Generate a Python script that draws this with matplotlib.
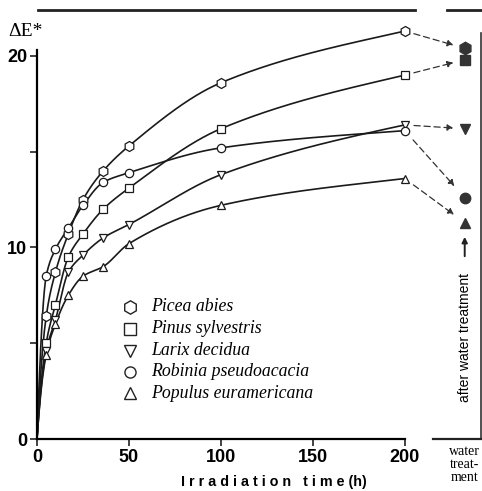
import numpy as np
import matplotlib
matplotlib.use("Agg")
import matplotlib.pyplot as plt
from matplotlib.patches import FancyArrowPatch

# irradiation times (h) and colour change dE* per species
hours = [0, 5, 10, 17, 25, 36, 50, 100, 200]
picea = [0, 6.4, 8.7, 10.7, 12.5, 14.0, 15.3, 18.6, 21.3]
pinus = [0, 5.0, 7.0, 9.5, 10.7, 12.0, 13.1, 16.2, 19.0]
larix = [0, 4.6, 6.2, 8.7, 9.6, 10.5, 11.2, 13.8, 16.4]
robinia = [0, 8.5, 9.9, 11.0, 12.2, 13.4, 13.9, 15.2, 16.1]
populus = [0, 4.4, 6.0, 7.5, 8.5, 9.0, 10.2, 12.2, 13.6]

# dE* after water treatment
water = {"Picea abies": 20.4, "Pinus sylvestris": 19.8, "Larix decidua": 16.2,
         "Robinia pseudoacacia": 12.6, "Populus euramericana": 11.3}

species = ["Picea abies", "Pinus sylvestris", "Larix decidua",
           "Robinia pseudoacacia", "Populus euramericana"]
series = [picea, pinus, larix, robinia, populus]
markers = ["h", "s", "v", "o", "^"]
# hexagons draw smaller than the other symbols at equal size
msize = {"h": 1.2, "s": 1.0, "v": 1.0, "o": 1.0, "^": 1.0}


def pchip(x, y, xs):
    # monotone cubic hermite curve through the measured points
    x = np.asarray(x, float)
    y = np.asarray(y, float)
    h = np.diff(x)
    d = np.diff(y) / h
    m = np.zeros_like(y)
    for k in range(1, len(x) - 1):
        if d[k - 1] * d[k] > 0:
            w1 = 2 * h[k] + h[k - 1]
            w2 = h[k] + 2 * h[k - 1]
            m[k] = (w1 + w2) / (w1 / d[k - 1] + w2 / d[k])
    m[0] = d[0] * 1.6
    m[-1] = d[-1] * 0.8
    out = np.empty_like(xs)
    for i, t in enumerate(xs):
        k = min(np.searchsorted(x, t, side="right") - 1, len(x) - 2)
        s = (t - x[k]) / h[k]
        h00 = 2 * s**3 - 3 * s**2 + 1
        h10 = s**3 - 2 * s**2 + s
        h01 = -2 * s**3 + 3 * s**2
        h11 = s**3 - s**2
        out[i] = h00 * y[k] + h10 * h[k] * m[k] + h01 * y[k + 1] + h11 * h[k] * m[k + 1]
    return out


fig = plt.figure(figsize=(4.82, 4.91), dpi=100)
ax = fig.add_axes([37 / 482, 52 / 491, 1 - 37 / 482, 429 / 491])
ax.set_xlim(0, 242)
ax.set_ylim(0, 22.4)

xs = np.linspace(0, 200, 400)
x_water = 232.6
for name, vals, mk in zip(species, series, markers):
    ax.plot(xs, pchip(hours, vals, xs), color="#1a1a1a", lw=1.2, zorder=2)
    ax.plot(hours[1:], vals[1:], ls="none", marker=mk, ms=6 * msize[mk], mfc="white",
            mec="#1a1a1a", mew=0.9, zorder=3)
    ax.plot(x_water, water[name], ls="none", marker=mk, ms=7.5 * msize[mk], color="#333333",
            zorder=3, clip_on=False)
    # dashed arrow from the 200 h value to the water-treated value
    y0, y1 = vals[-1], water[name]
    x0, x1 = 203.5, 228.0
    ye = y0 + (y1 - y0) * (x1 - 200) / (x_water - 200)
    ys = y0 + (y1 - y0) * (x0 - 200) / (x_water - 200)
    ax.add_patch(FancyArrowPatch((x0, ys), (x1, ye), arrowstyle="-|>",
                                 mutation_scale=9, lw=0.9, ls=(0, (5, 3)),
                                 color="#333333", clip_on=False))

# axes frame
for side in ["top", "right"]:
    ax.spines[side].set_visible(False)
ax.spines["left"].set_bounds(0, 20.3)
ax.spines["bottom"].set_bounds(0, 200)
ax.spines["left"].set_linewidth(1.6)
ax.spines["bottom"].set_linewidth(1.6)
ax.plot([0.5, 205.4], [22.4, 22.4], color="#222222", lw=2, clip_on=False)
ax.plot([222.8, 242], [22.4, 22.4], color="#222222", lw=2, clip_on=False)
ax.plot([241.3, 241.3], [0, 21.2], color="#333333", lw=1.2, clip_on=False)
ax.plot([215.2, 242], [0, 0], color="#222222", lw=1.6, clip_on=False)

tick_font = {"family": "Liberation Sans", "weight": "bold", "size": 13}
ax.set_xticks([0, 50, 100, 150, 200])
ax.set_xticklabels(["0", "50", "100", "150", "200"], fontdict=tick_font)
ax.set_yticks([0, 5, 10, 15, 20])
ax.set_yticklabels(["0", "", "10", "", "20"], fontdict=tick_font)
ax.tick_params(direction="out", length=5, width=1.2, color="#222222", pad=2)

ax.text(-15.6, 21.3, "ΔE*", fontsize=14, family="Liberation Serif", ha="left", va="center")
ax.text(129, -2.25, "I r r a d i a t i o n   t i m e (h)", fontsize=10.3, weight="bold",
        family="Liberation Sans", ha="center", va="center")

ax.text(x_water, -0.3, "water\ntreat-\nment", fontsize=10, family="Liberation Serif",
        ha="center", va="top", linespacing=1.0)
ax.text(x_water, 5.3, "after water treatment", fontsize=10, family="Liberation Sans",
        rotation=90, ha="center", va="center")
ax.add_patch(FancyArrowPatch((x_water, 9.4), (x_water, 10.7), arrowstyle="-|>",
                             mutation_scale=8, lw=1.4, color="#222222", clip_on=False))

# legend
leg_y = [6.9, 5.75, 4.6, 3.5, 2.4]
for name, mk, yy in zip(species, markers, leg_y):
    ax.plot(50.5, yy, ls="none", marker=mk, ms=8 * msize[mk], mfc="white", mec="#222222", mew=1.0)
    ax.text(62, yy, name, fontsize=12.8, style="italic", family="Liberation Serif",
            va="center", ha="left")

fig.savefig("out.png", dpi=100)
